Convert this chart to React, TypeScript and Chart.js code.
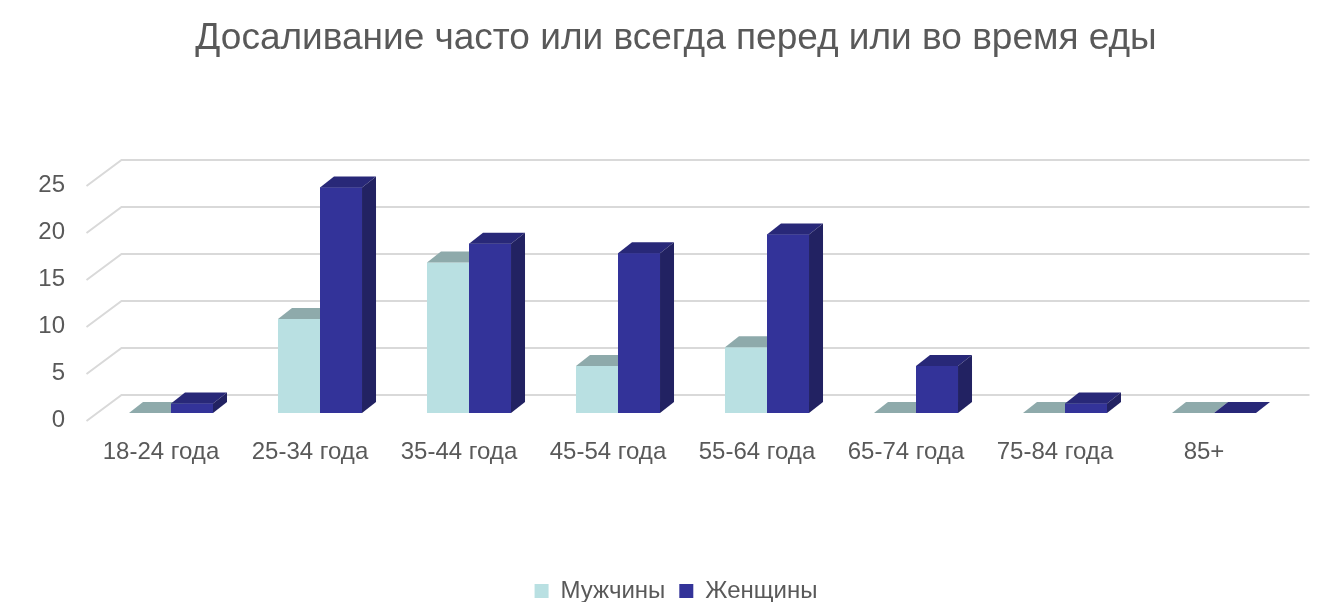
import React, { useEffect, useRef } from 'react';
import { Chart, registerables } from 'chart.js';

Chart.register(...registerables);

const categories = ['18-24 года', '25-34 года', '35-44 года', '45-54 года', '55-64 года', '65-74 года', '75-84 года', '85+'];
const seriesNames = ['Мужчины', 'Женщины'];
const menValues = [0, 10, 16, 5, 7, 0, 0, 0];
const womenValues = [1, 24, 18, 17, 19, 5, 1, 0];
const yTickValues = [0, 5, 10, 15, 20, 25];
const chartTitle = 'Досаливание часто или всегда перед или во время еды';

const frontColors = ['#b9e0e2', '#333399'];
const topColors = ['#8eaaab', '#282878'];
const sideColors = ['#8eaaab', '#222262'];

const TEXT = '#595959';
const GRID = '#d9d9d9';
const FONT = "'Liberation Sans', Arial, sans-serif";

const DEPTH = { dx: 14, dy: -11 };
const BACK = { dx: 25, dy: -18 };
const FRONT = { dx: -10, dy: 8 };

function drawFaces(ctx: CanvasRenderingContext2D, el: any, idx: number) {
  const { x, y, base, width } = el.getProps(['x', 'y', 'base', 'width'], true);
  const l = x - width / 2;
  const r = x + width / 2;
  ctx.fillStyle = topColors[idx];
  ctx.beginPath();
  ctx.moveTo(l, y);
  ctx.lineTo(r, y);
  ctx.lineTo(r + DEPTH.dx, y + DEPTH.dy);
  ctx.lineTo(l + DEPTH.dx, y + DEPTH.dy);
  ctx.closePath();
  ctx.fill();
  if (base - y > 0.5) {
    ctx.fillStyle = sideColors[idx];
    ctx.beginPath();
    ctx.moveTo(r, y);
    ctx.lineTo(r + DEPTH.dx, y + DEPTH.dy);
    ctx.lineTo(r + DEPTH.dx, base + DEPTH.dy);
    ctx.lineTo(r, base);
    ctx.closePath();
    ctx.fill();
  }
}

const bar3dPlugin = {
  id: 'bar3d',
  beforeDatasetsDraw(chart: any) {
    const { ctx, chartArea, scales } = chart;
    const ys = scales.y;
    ctx.save();
    ctx.strokeStyle = GRID;
    ctx.lineWidth = 2;
    ys.ticks.forEach((t: any) => {
      const py = ys.getPixelForValue(t.value);
      ctx.beginPath();
      ctx.moveTo(chartArea.left + FRONT.dx, py + FRONT.dy);
      ctx.lineTo(chartArea.left + BACK.dx, py + BACK.dy);
      ctx.lineTo(chartArea.right + 21, py + BACK.dy);
      ctx.stroke();
    });
    ctx.restore();
  },
  afterDatasetsDraw(chart: any) {
    const { ctx } = chart;
    ctx.save();
    chart.data.datasets.forEach((_ds: any, i: number) => {
      const meta = chart.getDatasetMeta(i);
      meta.data.forEach((el: any) => {
        if (i > 0) el.draw(ctx);
        drawFaces(ctx, el, i);
      });
    });
    ctx.restore();
  },
};

export default function App() {
  const ref = useRef<HTMLCanvasElement>(null);
  useEffect(() => {
    const chart = new Chart(ref.current as HTMLCanvasElement, {
      type: 'bar',
      data: {
        labels: categories,
        datasets: [
          { label: seriesNames[0], data: menValues, backgroundColor: frontColors[0], borderWidth: 0 },
          { label: seriesNames[1], data: womenValues, backgroundColor: frontColors[1], borderWidth: 0 },
        ],
      },
      options: {
        animation: false,
        responsive: false,
        maintainAspectRatio: false,
        devicePixelRatio: 1,
        layout: { padding: { left: 38, right: 17, top: 0, bottom: 0 } },
        datasets: { bar: { categoryPercentage: 0.564, barPercentage: 1 } } as any,
        scales: {
          x: {
            grid: { display: false, drawTicks: false },
            border: { display: false },
            ticks: {
              labelOffset: -10,
              padding: 25,
              color: TEXT,
              font: { family: FONT, size: 24 },
              maxRotation: 0,
              autoSkip: false,
            },
            afterFit: (s: any) => { s.height = 152; },
          },
          y: {
            min: 0,
            max: 25,
            afterBuildTicks: (s: any) => { s.ticks = yTickValues.map((v) => ({ value: v })); },
            grid: { display: false, drawTicks: false },
            border: { display: false },
            ticks: {
              labelOffset: 7,
              padding: 31.5,
              color: TEXT,
              font: { family: FONT, size: 24 },
            },
            afterFit: (s: any) => { s.width = 58.5; },
          },
          yRight: {
            type: 'linear',
            position: 'right',
            display: true,
            grid: { display: false, drawTicks: false },
            border: { display: false },
            ticks: { display: false },
            afterFit: (s: any) => { s.width = 25.5; },
          },
        },
        plugins: {
          title: {
            display: true,
            text: chartTitle,
            color: TEXT,
            font: { family: FONT, size: 37, weight: 'normal' },
            padding: { top: 17, bottom: 116.6 },
          },
          legend: {
            position: 'bottom',
            maxHeight: 37,
            labels: {
              boxWidth: 14,
              boxHeight: 14,
              padding: 14,
              color: TEXT,
              font: { family: FONT, size: 24 },
            },
          } as any,
          tooltip: { enabled: false },
        },
      },
      plugins: [bar3dPlugin],
    });
    return () => chart.destroy();
  }, []);
  return (
    <div style={{ position: 'fixed', left: 0, top: 0, width: 1331, height: 602, background: '#ffffff' }}>
      <canvas ref={ref} width={1331} height={602} style={{ width: 1331, height: 602, display: 'block' }} />
    </div>
  );
}
